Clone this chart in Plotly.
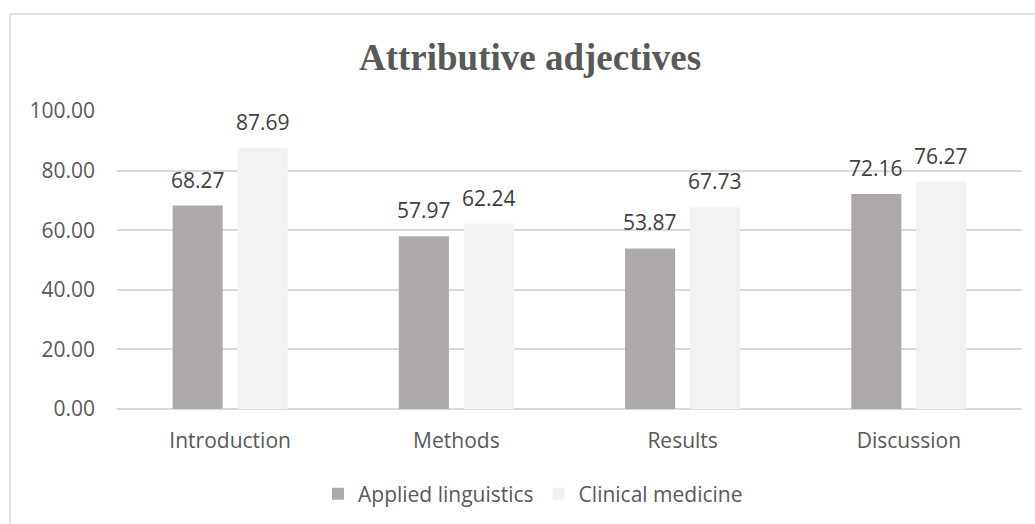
import plotly.graph_objects as go

categories = ["Introduction", "Methods", "Results", "Discussion"]
applied = [68.27, 57.97, 53.87, 72.16]
clinical = [87.69, 62.24, 67.73, 76.27]
series_names = ["Applied linguistics", "Clinical medicine"]
colors = ["#ADA9A8", "#F2F2F2"]

L, R, T, B = 117, 13, 111, 115
W, H = 1035, 524
pw, ph = W - L - R, H - T - B

def px(x):
    return (x - L) / pw

def py(y):
    return (H - B - y) / ph

FONT = "Open Sans, sans-serif"

fig = go.Figure()
annotations = []
for i, (name, vals, col) in enumerate(zip(series_names, [applied, clinical], colors)):
    fig.add_trace(go.Bar(
        x=categories, y=vals, name=name, marker=dict(color=col, line=dict(width=0)),
        hoverinfo="skip",
    ))
    for c, v in zip(categories, vals):
        annotations.append(dict(
            x=c, y=v, xref="x", yref="y", text=f"{v:.2f}", showarrow=False,
            xanchor="center", yanchor="bottom", xshift=(-32.5 if i == 0 else 32.5), yshift=10,
            font=dict(family=FONT, size=21, color="#404040"),
        ))

fig.update_layout(
    width=W, height=H,
    margin=dict(l=L, r=R, t=T, b=B, autoexpand=False),
    paper_bgcolor="white", plot_bgcolor="white",
    barmode="group", bargap=0.425, bargroupgap=0.23,
    title=dict(text="<b>Attributive adjectives</b>", x=530 / W, xref="container", xanchor="center",
               y=1 - 57 / H, yanchor="middle",
               font=dict(family="Liberation Serif, Times New Roman, serif", size=37, color="#595959")),
    font=dict(family=FONT, color="#595959", size=21),
    xaxis=dict(showgrid=False, showline=False, ticks="", tickfont=dict(size=21, color="#595959"),
               ticklabelstandoff=17),
    yaxis=dict(range=[0, 100], dtick=20, tickformat=".2f", showgrid=True, gridcolor="#D9D9D9",
               gridwidth=1.5, zeroline=True, zerolinecolor="#D9D9D9", zerolinewidth=1.5,
               showline=False, ticks="", tickfont=dict(size=21, color="#595959"),
               ticklabelstandoff=21),
    legend=dict(orientation="h", x=(533 - L) / pw, xanchor="center", xref="paper",
                y=py(494), yanchor="middle",
                font=dict(size=21, color="#595959"), itemwidth=30, traceorder="normal"),
    showlegend=True,
    annotations=annotations,
    shapes=[
        dict(type="line", xref="paper", yref="paper", x0=px(10), x1=px(10), y0=py(14), y1=py(H + 5),
             line=dict(color="#D9D9D9", width=1.5)),
        dict(type="line", xref="paper", yref="paper", x0=px(10), x1=px(W + 5), y0=py(14), y1=py(14),
             line=dict(color="#D9D9D9", width=1.5)),
    ],
)

fig.write_html("out.html", config={"displayModeBar": False},
               post_script="document.body.style.margin='0px';document.body.style.overflow='hidden';")
